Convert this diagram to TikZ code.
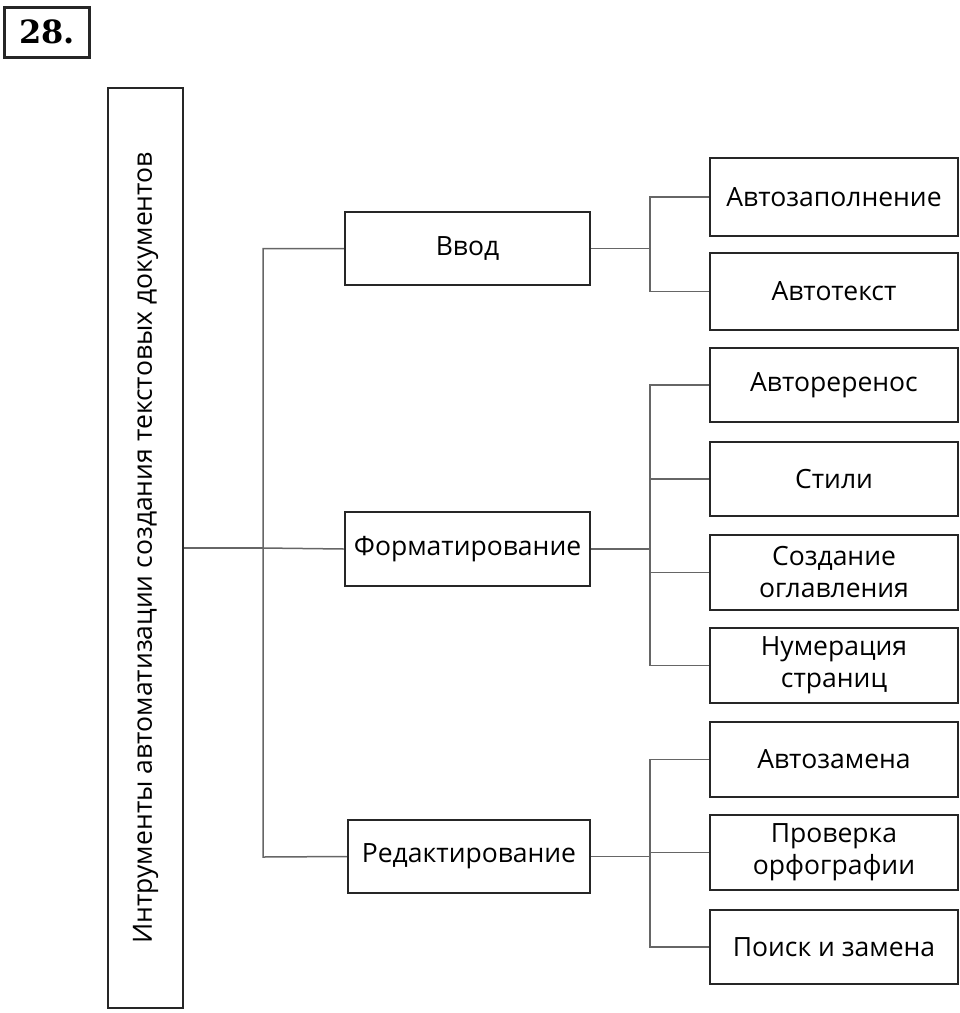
\documentclass[tikz,border=0pt]{standalone}
\usepackage{fontspec}
\setmainfont{Open Sans}
\newfontfamily\numfont{DejaVu Serif}
\usetikzlibrary{positioning}
\tikzset{
    box/.style = {
        draw=black!85,
        line width=2.5pt,
        align=center,
        font=\fontsize{26.5}{32}\selectfont,
        inner sep=0pt,
        },
    link/.style = {
        draw=black!60,
        line width=1.5pt,
        },
}
\begin{document}
\begin{tikzpicture}[x=1pt,y=-1pt]
    \useasboundingbox (0,0) rectangle (960,1013);

    \node[box, line width=3pt, minimum width=85, minimum height=50, font=\numfont\bfseries\fontsize{32}{32}\selectfont] (num) at (47,32) {28.};
    \node[box, minimum width=920, minimum height=75, rotate=90] (root) at (145.5,548) {Интрументы автоматизации создания текстовых документов};

    \node[box, minimum width=245, minimum height=73] (vvod) at (467.5,248.5) {Ввод};
    \node[box, minimum width=245, minimum height=74] (format) at (467.5,549) {Форматирование};
    \node[box, minimum width=242, minimum height=73] (edit) at (469,856.5) {Редактирование};

    \node[box, minimum width=248, minimum height=78] (a1) at (834,197) {Автозаполнение};
    \node[box, minimum width=248, minimum height=77] (a2) at (834,291.5) {Автотекст};
    \node[box, minimum width=248, minimum height=74] (b1) at (834,385) {Автореренос};
    \node[box, minimum width=248, minimum height=74] (b2) at (834,479) {Стили};
    \node[box, minimum width=248, minimum height=75] (b3) at (834,572.5) {Создание\\оглавления};
    \node[box, minimum width=248, minimum height=75] (b4) at (834,665.5) {Нумерация\\страниц};
    \node[box, minimum width=248, minimum height=75] (c1) at (834,759.5) {Автозамена};
    \node[box, minimum width=248, minimum height=75] (c2) at (834,852.5) {Проверка\\орфографии};
    \node[box, minimum width=248, minimum height=74] (c3) at (834,947) {Поиск и замена};

    % trunk
    \draw[link] (root.south) -- (263,548);
    \draw[link] (vvod.west) -| (263,857) -- (edit.west);
    \draw[link] (263,548) -- (format.west);

    % groups
    \draw[link] (vvod.east) -- (650,248.5);
    \draw[link] (a1.west) -| (650,291.5) -- (a2.west);
    \draw[link] (format.east) -- (650,549);
    \draw[link] (b1.west) -| (650,665.5) -- (b4.west);
    \draw[link] (650,479) -- (b2.west);
    \draw[link] (650,572.5) -- (b3.west);
    \draw[link] (edit.east) -- (650,856.5);
    \draw[link] (c1.west) -| (650,947) -- (c3.west);
    \draw[link] (650,852.5) -- (c2.west);
\end{tikzpicture}
\end{document}
